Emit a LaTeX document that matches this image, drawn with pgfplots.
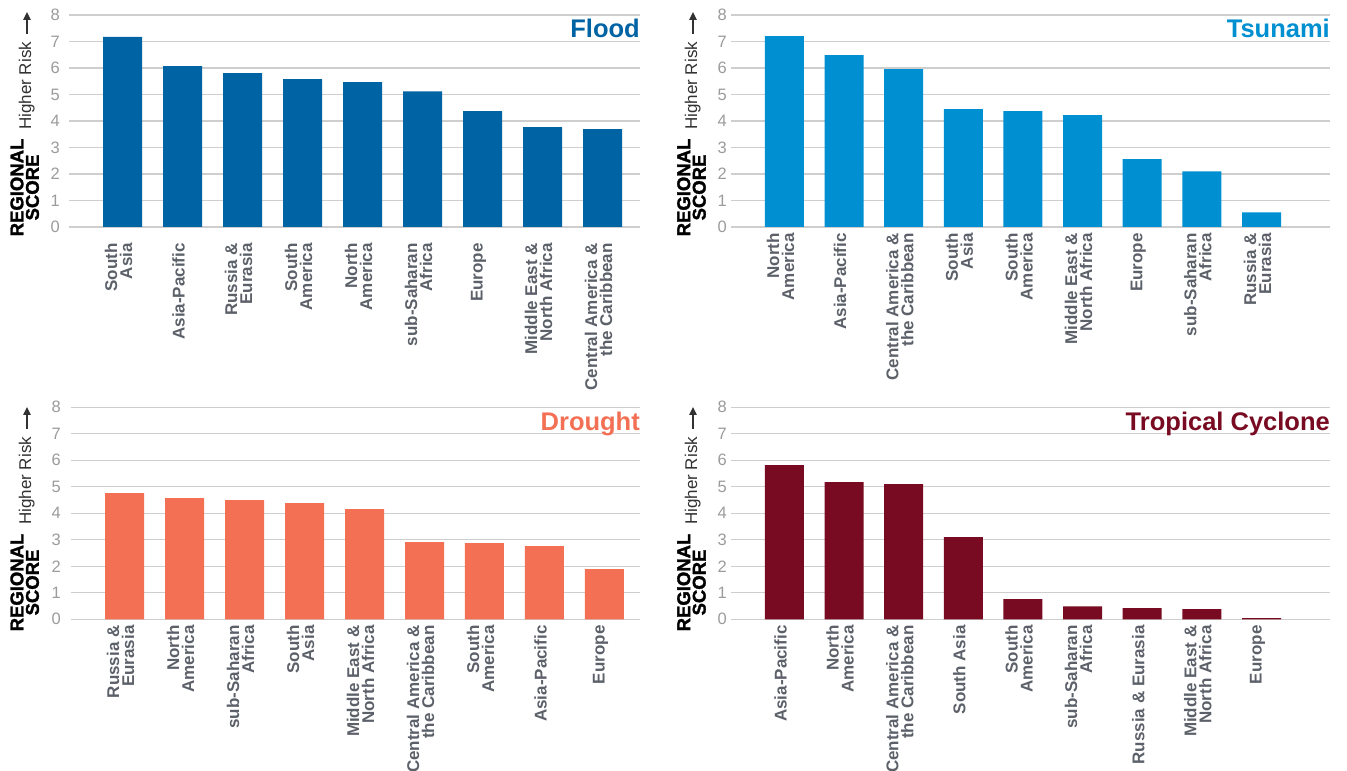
\documentclass[border=0pt]{standalone}
\usepackage{pgfplots}
\pgfplotsset{compat=1.18}
\usepackage{fontspec}
\setmainfont{Liberation Sans}
\newfontfamily\heavyfont[FakeBold=1.6]{Liberation Sans Bold}
\usetikzlibrary{arrows.meta}
\definecolor{floodblue}{RGB}{0,99,163}
\definecolor{tsunamiblue}{RGB}{0,143,208}
\definecolor{droughtorange}{RGB}{243,112,84}
\definecolor{cyclonered}{RGB}{120,11,33}
\definecolor{labelgray}{RGB}{91,96,105}
\definecolor{tickgray}{RGB}{155,155,155}
\definecolor{gridgray}{RGB}{206,206,206}
\definecolor{riskgray}{RGB}{50,50,50}

\pgfplotsset{
  panel/.style={
    scale only axis, height=212pt,
    ymin=0, ymax=8, ytick={0,1,...,8},
    xtick={0,1,...,8},
    ymajorgrids, grid style={line width=1.1pt, draw=gridgray},
    axis line style={draw=none},
    major tick length=0pt,
    enlargelimits=false, clip=false,
    /pgf/number format/assume math mode=true,
    yticklabel style={font=\fontsize{16.5}{16.5}\selectfont, text=tickgray, anchor=east, inner sep=0pt},
    xticklabel style={xshift=-4pt, font=\fontsize{17}{15}\selectfont\bfseries, text=labelgray, rotate=90, anchor=east, align=right, inner xsep=6pt, inner ysep=0pt},
  },
}
\tikzset{
  ttl/.style={anchor=base east, inner sep=0pt, yshift=-23pt, font=\fontsize{25.5}{26}\selectfont\bfseries},
}

\newcommand{\sidelabels}[5]{%
  \node[rotate=90, anchor=center, align=center, inner sep=0pt, font=\fontsize{18.5}{15.5}\heavyfont] at (#1pt,#2pt) {REGIONAL\\SCORE};
  \node[rotate=90, anchor=base west, inner sep=0pt, text=riskgray, font=\fontsize{17}{17}\selectfont] at (#3pt,#4pt) {Higher Risk};
  \draw[line width=1.2pt, riskgray, -{Triangle[length=8pt,width=7.5pt]}] (#5pt,#4pt+96pt) -- (#5pt,#4pt+118pt);
}

\begin{document}
\begin{tikzpicture}[x=1pt,y=1pt]
\useasboundingbox (0,0) rectangle (1347,771);

% ---------------- Flood ----------------
\begin{axis}[panel, at={(69pt,544pt)}, anchor=south west, width=571pt,
  xmin=-0.892, xmax=8.625, yticklabel style={xshift=-9pt},
  xticklabel style={inner xsep=16pt},
  xticklabels={{South\\Asia},{Asia-Pacific},{Russia \&\\Eurasia},{South\\America},{North\\America},{sub-Saharan\\Africa},{Europe},{Middle East \&\\North Africa},{Central America \&\\the Caribbean}}]
\addplot[ybar, bar width=39pt, fill=floodblue, draw=none] coordinates {
 (0,7.17) (1,6.07) (2,5.81) (3,5.58) (4,5.47) (5,5.12) (6,4.37) (7,3.77) (8,3.69)};
\node[ttl, text=floodblue] at (rel axis cs:1,1) {Flood};
\end{axis}

% ---------------- Tsunami ----------------
\begin{axis}[panel, at={(731pt,544pt)}, anchor=south west, width=599pt,
  xmin=-0.897, xmax=9.149, yticklabel style={xshift=-4pt},
  xticklabels={{North\\America},{Asia-Pacific},{Central America \&\\the Caribbean},{South\\Asia},{South\\America},{Middle East \&\\North Africa},{Europe},{sub-Saharan\\Africa},{Russia \&\\Eurasia}}]
\addplot[ybar, bar width=39pt, fill=tsunamiblue, draw=none] coordinates {
 (0,7.20) (1,6.49) (2,5.96) (3,4.45) (4,4.37) (5,4.22) (6,2.56) (7,2.10) (8,0.55)};
\node[ttl, text=tsunamiblue] at (rel axis cs:1,1) {Tsunami};
\end{axis}

% ---------------- Drought ----------------
\begin{axis}[panel, at={(71pt,151.7pt)}, anchor=south west, width=569pt,
  xmin=-0.892, xmax=8.592, yticklabel style={xshift=-10pt},
  xticklabels={{Russia \&\\Eurasia},{North\\America},{sub-Saharan\\Africa},{South\\Asia},{Middle East \&\\North Africa},{Central America \&\\the Caribbean},{South\\America},{Asia-Pacific},{Europe}}]
\addplot[ybar, bar width=39pt, fill=droughtorange, draw=none] coordinates {
 (0,4.76) (1,4.57) (2,4.50) (3,4.38) (4,4.16) (5,2.91) (6,2.87) (7,2.76) (8,1.89)};
\node[ttl, text=droughtorange] at (rel axis cs:1,1) {Drought};
\end{axis}

% ---------------- Tropical Cyclone ----------------
\begin{axis}[panel, at={(731pt,151.7pt)}, anchor=south west, width=599pt,
  xmin=-0.897, xmax=9.149, yticklabel style={xshift=-4pt},
  xticklabels={{Asia-Pacific},{North\\America},{Central America \&\\the Caribbean},{South Asia},{South\\America},{sub-Saharan\\Africa},{Russia \& Eurasia},{Middle East \&\\North Africa},{Europe}}]
\addplot[ybar, bar width=39pt, fill=cyclonered, draw=none] coordinates {
 (0,5.82) (1,5.18) (2,5.10) (3,3.10) (4,0.76) (5,0.49) (6,0.42) (7,0.38) (8,0.04)};
\node[ttl, text=cyclonered] at (rel axis cs:1,1) {Tropical Cyclone};
\end{axis}

\sidelabels{24.7}{583.5}{31}{641}{27}
\sidelabels{691.5}{583.5}{697}{641}{693}
\sidelabels{24.7}{188.5}{31}{246}{27}
\sidelabels{691.5}{188.5}{697}{246}{693}
\end{tikzpicture}
\end{document}
